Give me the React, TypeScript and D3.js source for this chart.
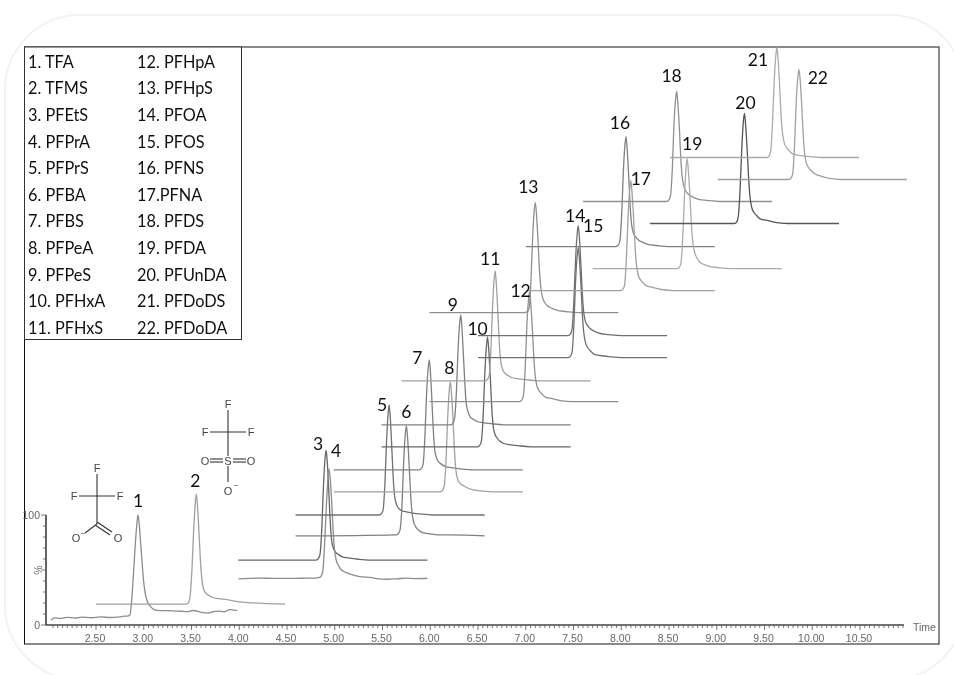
// Overlaid MRM chromatograms of 22 PFAS, stacked with a time and intensity offset per trace.
import * as d3 from 'd3'

const W = 954
const H = 675

const NAMES_LEFT = ['1. TFA', '2. TFMS', '3. PFEtS', '4. PFPrA', '5. PFPrS', '6. PFBA', '7. PFBS', '8. PFPeA', '9. PFPeS', '10. PFHxA', '11. PFHxS']
const NAMES_RIGHT = ['12. PFHpA', '13. PFHpS', '14. PFOA', '15. PFOS', '16. PFNS', '17.PFNA', '18. PFDS', '19. PFDA', '20. PFUnDA', '21. PFDoDS', '22. PFDoDA']

const TIME_LABELS = [2.5, 3, 3.5, 4, 4.5, 5, 5.5, 6, 6.5, 7, 7.5, 8, 8.5, 9, 9.5, 10, 10.5]

// retention time of each apex, start of each trace window (minutes), stack offset (%)
const APEX = [2.94, 3.55, 4.91, 4.94, 5.57, 5.75, 5.99, 6.21, 6.32, 6.6, 6.68, 7.04, 7.1, 7.55, 7.55, 8.05, 8.1, 8.58, 8.69, 9.29, 9.63, 9.86]
const START = [2.03, 2.5, 3.99, 3.99, 4.59, 4.59, 4.99, 4.99, 5.49, 5.49, 5.7, 5.99, 5.99, 6.5, 6.5, 7, 7, 7.6, 7.7, 8.3, 8.51, 9.01]
const OFFSET = [0, 19, 59, 42, 100, 81, 141, 121, 182, 162, 222, 203, 284, 263, 243, 344, 304, 385, 324, 365, 425, 405]

// minutes relative to the apex, shared sampling for the intensity lists below
const APEX_TIMES = [-0.11, -0.085, -0.065, -0.045, -0.028, -0.012, 0, 0.012, 0.028, 0.042, 0.056, 0.075, 0.1, 0.13, 0.17, 0.23, 0.32, 0.45]

const I1 = [8, 9, 24, 50, 74, 92, 100, 92, 74, 58, 42, 29, 21, 17, 14, 13, 13, 12.5]
const I2 = [0, 1, 7, 32, 66, 90, 100, 90, 66, 42, 25, 14, 10, 8, 6, 5, 4, 2]
const I3 = [0, 1, 5, 30, 68, 92, 100, 89, 62, 36, 19, 11, 7, 5, 3, 2, 1, 0]
const I4 = [1, 2, 7, 34, 66, 90, 100, 92, 70, 46, 28, 17, 12, 8, 6, 4, 2, 1]
const I5 = [0, 1, 4, 28, 66, 91, 100, 88, 60, 34, 18, 10, 6, 4, 3, 2, 1, 0]
const I6 = [1, 2, 6, 30, 68, 92, 100, 90, 66, 42, 24, 13, 8, 5, 3, 2, 1, 1]
const I7 = [0, 1, 5, 32, 70, 92, 100, 89, 62, 36, 19, 11, 7, 5, 3, 2, 1, 0]
const I8 = [0, 1, 5, 28, 66, 91, 100, 90, 66, 40, 22, 12, 8, 6, 4, 2, 1, 0]
const I9 = [0, 1, 6, 32, 70, 92, 100, 88, 62, 38, 20, 12, 7, 5, 3, 2, 1, 0]
const I10 = [0, 1, 5, 30, 68, 91, 100, 89, 64, 39, 21, 12, 8, 5, 3, 2, 1, 0]
const I11 = [0, 1, 4, 28, 66, 91, 100, 88, 62, 36, 19, 11, 7, 5, 3, 2, 1, 0]
const I12 = [0, 1, 5, 32, 70, 92, 100, 90, 68, 44, 26, 15, 10, 7, 4, 3, 1, 0]
const I13 = [0, 1, 4, 30, 68, 92, 100, 90, 66, 41, 24, 14, 9, 6, 4, 2, 1, 0]
const I14 = [0, 1, 6, 34, 70, 92, 100, 89, 64, 39, 22, 13, 9, 6, 4, 2, 1, 0]
const I15 = [0, 1, 5, 32, 70, 92, 100, 90, 66, 41, 24, 14, 9, 6, 3, 2, 1, 0]
const I16 = [0, 1, 5, 30, 68, 92, 100, 89, 64, 39, 22, 13, 9, 6, 4, 2, 1, 0]
const I17 = [0, 1, 5, 32, 68, 91, 100, 90, 68, 44, 26, 15, 10, 7, 4, 3, 1, 0]
const I18 = [0, 1, 5, 30, 70, 92, 100, 90, 68, 42, 24, 14, 9, 6, 4, 2, 1, 0]
const I19 = [0, 1, 5, 30, 66, 91, 100, 90, 68, 44, 27, 16, 10, 6, 4, 2, 1, 0]
const I20 = [0, 1, 6, 32, 68, 92, 100, 90, 68, 44, 26, 15, 10, 7, 4, 3, 1, 0]
const I21 = [0, 1, 6, 34, 70, 92, 100, 90, 66, 41, 24, 14, 9, 6, 3, 2, 1, 0]
const I22 = [0, 1, 5, 32, 70, 92, 100, 92, 70, 46, 27, 16, 11, 8, 5, 3, 1, 0]
const INTENSITIES = [I1, I2, I3, I4, I5, I6, I7, I8, I9, I10, I11, I12, I13, I14, I15, I16, I17, I18, I19, I20, I21, I22]

// noisy baselines that are visible at this zoom: [minutes, %]
const LEAD_1 = [[2.03, 4.5], [2.07, 6.5], [2.12, 6], [2.2, 7], [2.28, 6.3], [2.35, 7.2], [2.45, 6.6], [2.55, 7.3], [2.65, 6.8], [2.75, 7.4], [2.8, 8]]
const TAIL_1 = [[3.45, 12.2], [3.52, 13.2], [3.6, 11.5], [3.68, 10.8], [3.72, 12], [3.78, 12.6], [3.84, 12], [3.9, 14], [3.94, 13.5], [3.98, 13]]
const LEAD_4 = [[3.99, 0], [4.2, 0.6], [4.35, 0.4], [4.5, 0.3], [4.65, 0.5], [4.8, 0.6]]
const TAIL_4 = [[5.45, 0], [5.55, -0.4], [5.65, 0], [5.75, 0.6], [5.85, 0.2], [5.97, 0.5]]

const TRACE_GREY = ['#8c8c8c', '#a0a0a0', '#666666', '#8c8c8c', '#707070', '#808080', '#808080', '#a0a0a0', '#808080', '#666666', '#a0a0a0', '#909090', '#909090', '#707070', '#707070', '#808080', '#a0a0a0', '#909090', '#aaaaaa', '#555555', '#aaaaaa', '#a0a0a0']

// label shift from the apex in px
const LABEL_DX = [0, -1, -8, 7, -7, 0, -12, -1, -8, -10, -5, -9, -7, -3, 15, -6, 10, -5, 5, 1, -19, 19]
const LABEL_DY = [-14, -13, -6, -18, 0, -14, -2, -14, -10, -8, -12, -1, -16, -10, -22, -14, -2, -16, -15, -11, 12, 8]

const x = d3.scaleLinear().domain([2.5, 10.5]).range([96, 860])
const y = d3.scaleLinear().domain([0, 100]).range([625, 515])

const MINOR_TICKS = d3.range(0, 179).map((i) => 2.05 + i * 0.05)
const Y_TICKS = d3.range(0, 11).map((i) => i * 10)

const LABEL_FONT = 'Lato, "Open Sans", sans-serif'
const AXIS_FONT = '"Liberation Sans", Arial, sans-serif'

function tracePoints(i: number): number[][] {
  const peak = APEX_TIMES.map((t, k) => [APEX[i] + t, INTENSITIES[i][k]])
  const end = START[i] + 1.98
  if (i === 0) return [...LEAD_1, ...peak.filter((p) => p[0] < 3.45), ...TAIL_1]
  if (i === 3) return [...LEAD_4, ...peak, ...TAIL_4]
  return [[START[i], 0], ...peak, [end, 0]]
}

const line = d3.line<number[]>().x((d) => x(d[0])).curve(d3.curveMonotoneX)

function Molecule({ ox, oy, sulfonate }: { ox: number; oy: number; sulfonate: boolean }) {
  const ink = '#333'
  const t = { fontFamily: AXIS_FONT, fontSize: 11, fill: '#444', textAnchor: 'middle' as const }
  return (
    <g transform={`translate(${ox},${oy})`} stroke={ink} strokeWidth={1.1}>
      <line x1={0} y1={-22} x2={0} y2={0} />
      <line x1={-18} y1={0} x2={18} y2={0} />
      <g stroke="none">
        <text x={0} y={-24} {...t}>F</text>
        <text x={-23} y={4} {...t}>F</text>
        <text x={23} y={4} {...t}>F</text>
      </g>
      {sulfonate ? (
        <>
          <line x1={0} y1={0} x2={0} y2={24} />
          <line x1={0} y1={34} x2={0} y2={50} />
          <line x1={-18} y1={27} x2={-5} y2={27} />
          <line x1={-18} y1={30} x2={-5} y2={30} />
          <line x1={5} y1={27} x2={18} y2={27} />
          <line x1={5} y1={30} x2={18} y2={30} />
          <g stroke="none">
            <text x={0} y={33} {...t}>S</text>
            <text x={-23} y={33} {...t}>O</text>
            <text x={23} y={33} {...t}>O</text>
            <text x={0} y={63} {...t}>O</text>
            <text x={8} y={56} {...t} fontSize={8}>−</text>
          </g>
        </>
      ) : (
        <>
          <line x1={0} y1={0} x2={0} y2={28} />
          <line x1={0} y1={28} x2={-12} y2={37} />
          <line x1={0} y1={26} x2={15} y2={36} />
          <line x1={-2} y1={29} x2={13} y2={39} />
          <g stroke="none">
            <text x={-21} y={46} {...t}>O</text>
            <text x={-14} y={40} {...t} fontSize={8}>−</text>
            <text x={21} y={46} {...t}>O</text>
          </g>
        </>
      )}
    </g>
  )
}

export default function App() {
  return (
    <svg width={W} height={H} style={{ position: 'absolute', left: 0, top: 0, background: '#fff' }}>
      <defs>
        <filter id="soft" x="-2%" y="-2%" width="104%" height="104%">
          <feGaussianBlur stdDeviation="0.4" />
        </filter>
      </defs>

      <rect x={5} y={15} width={960} height={665} rx={75} ry={75} fill="#fff" stroke="#f2f2f2" strokeWidth={2} />

      <g filter="url(#soft)">
        <rect x={24.5} y={47} width={914.5} height={597} fill="none" stroke="#111" strokeWidth={1} />

        {INTENSITIES.map((_, i) => (
          <path
            key={i}
            d={line.y((d) => y(d[1] + OFFSET[i]))(tracePoints(i)) ?? ''}
            fill="none"
            stroke={TRACE_GREY[i]}
            strokeWidth={1.3}
          />
        ))}

        {/* x axis */}
        <line x1={46} x2={x(10.96)} y1={y(0)} y2={y(0)} stroke="#444" strokeWidth={1.5} />
        {MINOR_TICKS.map((t, i) => (
          <line
            key={i}
            x1={x(t)}
            x2={x(t)}
            y1={y(0)}
            y2={y(0) + (Math.abs((t * 2) % 1) < 1e-6 || Math.abs((t * 2) % 1 - 1) < 1e-6 ? 5 : 3)}
            stroke="#555"
            strokeWidth={0.8}
          />
        ))}
        {TIME_LABELS.map((t) => (
          <text key={t} x={x(t) - 1} y={642} textAnchor="middle" fontFamily={AXIS_FONT} fontSize={10.5} fill="#666">
            {t.toFixed(2)}
          </text>
        ))}
        <text x={913} y={631} fontFamily={AXIS_FONT} fontSize={10.5} fill="#666">Time</text>

        {/* y axis */}
        <line x1={46} x2={46} y1={y(0)} y2={y(100)} stroke="#333" strokeWidth={1.5} />
        {Y_TICKS.map((v) => (
          <line key={v} x1={v % 50 === 0 ? 41 : 43} x2={46} y1={y(v)} y2={y(v)} stroke="#555" strokeWidth={0.8} />
        ))}
        <text x={40} y={519} textAnchor="end" fontFamily={AXIS_FONT} fontSize={10.5} fill="#666">100</text>
        <text x={40} y={629} textAnchor="end" fontFamily={AXIS_FONT} fontSize={10.5} fill="#666">0</text>
        <text transform={`translate(42,570) rotate(-90)`} textAnchor="middle" fontFamily={AXIS_FONT} fontSize={10.5} fill="#666">%</text>

        <Molecule ox={97} oy={496} sulfonate={false} />
        <Molecule ox={228} oy={432} sulfonate={true} />

        {/* peak numbers */}
        {APEX.map((t, i) => (
          <text
            key={i}
            x={x(t) + LABEL_DX[i]}
            y={y(100 + OFFSET[i]) + LABEL_DY[i]}
            dy="0.35em"
            textAnchor="middle"
            fontFamily={LABEL_FONT}
            fontSize={17.5}
            fill="#111"
          >
            {i + 1}
          </text>
        ))}

        {/* compound key */}
        <rect x={24.5} y={47} width={217} height={292.5} fill="#fff" stroke="#333" strokeWidth={1} />
        {NAMES_LEFT.map((n, i) => (
          <text key={n} x={28} y={62 + i * 26.6} dy="0.35em" fontFamily={LABEL_FONT} fontSize={16.3} fill="#111">{n}</text>
        ))}
        {NAMES_RIGHT.map((n, i) => (
          <text key={n} x={137} y={62 + i * 26.6} dy="0.35em" fontFamily={LABEL_FONT} fontSize={16.3} fill="#111">{n}</text>
        ))}
      </g>
    </svg>
  )
}
